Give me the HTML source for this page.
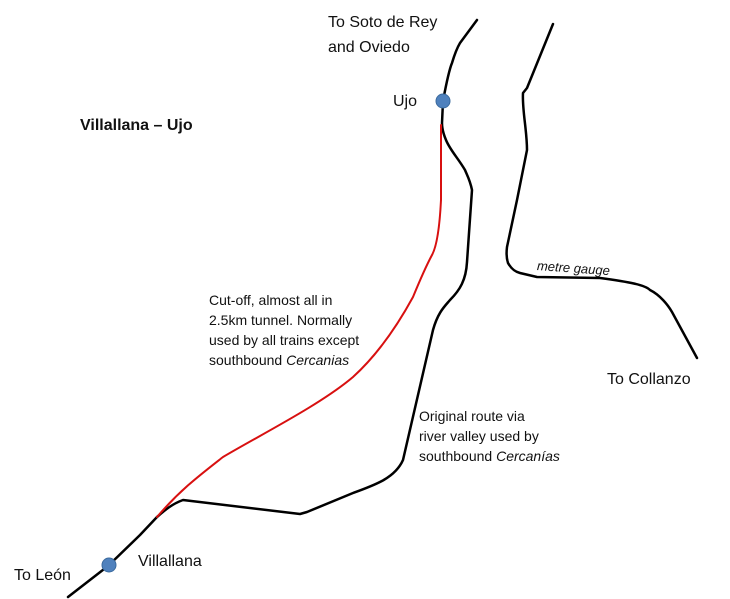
<!DOCTYPE html>
<html><head><style>
body{margin:0;width:730px;height:599px;background:#fff;overflow:hidden;position:relative;font-family:"Liberation Sans",sans-serif;color:#111}
.t{position:absolute;font-size:15px;line-height:20px;white-space:nowrap}
</style></head><body>
<svg width="730" height="599" style="position:absolute;left:0;top:0" fill="none" stroke-linecap="round" stroke-linejoin="round">
<path d="M68,597 L108,566 L140,535 L157,517 C165,510 172,504 183,500 L300,514 L307,512 L353,493 C375,485 395,478 403,460 L433,330 C438,312 445,306 450,300 C460,290 466,280 467,262 L469,233 L472,190 C470,180 467,175 465,170 C458,158 450,150 446,140 C443,133 442,128 442,123 L443,101 C446,85 449,70 452,63 C455,53 457,48 460,43 L477,20" stroke="#000" stroke-width="2.5"/>
<path d="M157,517 C180,490 200,475 223,457 C260,435 320,405 353,377 C375,357 395,330 413,297 C420,280 425,268 432,255 C438,244 440,220 441,200 L441,125" stroke="#d81010" stroke-width="2"/>
<path d="M553,24 L527,88 L523,93 C522,110 527,130 527,150 L517,200 L507,247 C506,255 507,260 508,263 C512,270 516,272 520,273 L537,277 L600,278 C630,282 645,285 650,290 C660,295 668,305 672,312 L697,358" stroke="#000" stroke-width="2.5"/>
<circle cx="443" cy="101" r="7" fill="#4f81bd" stroke="#3a6a9e" stroke-width="1"/>
<circle cx="109" cy="565" r="7" fill="#4f81bd" stroke="#3a6a9e" stroke-width="1"/>
</svg>
<div class="t" style="left:328px;top:10px;font-size:16px;line-height:25px">To Soto de Rey<br>and Oviedo</div>
<div class="t" style="left:393px;top:92px;font-size:16px">Ujo</div>
<div class="t" style="left:80px;top:116px;font-size:16px;font-weight:bold">Villallana – Ujo</div>
<div class="t" style="left:537px;top:256px;font-size:13px;font-style:italic;transform:rotate(4deg);transform-origin:left">metre gauge</div>
<div class="t" style="left:209px;top:290px;font-size:14px">Cut-off, almost all in<br>2.5km tunnel. Normally<br>used by all trains except<br>southbound <i>Cercanias</i></div>
<div class="t" style="left:607px;top:370px;font-size:16px">To Collanzo</div>
<div class="t" style="left:419px;top:406px;font-size:14px">Original route via<br>river valley used by<br>southbound <i>Cercanías</i></div>
<div class="t" style="left:138px;top:552px;font-size:16px">Villallana</div>
<div class="t" style="left:14px;top:566px;font-size:16px">To León</div>
</body></html>
